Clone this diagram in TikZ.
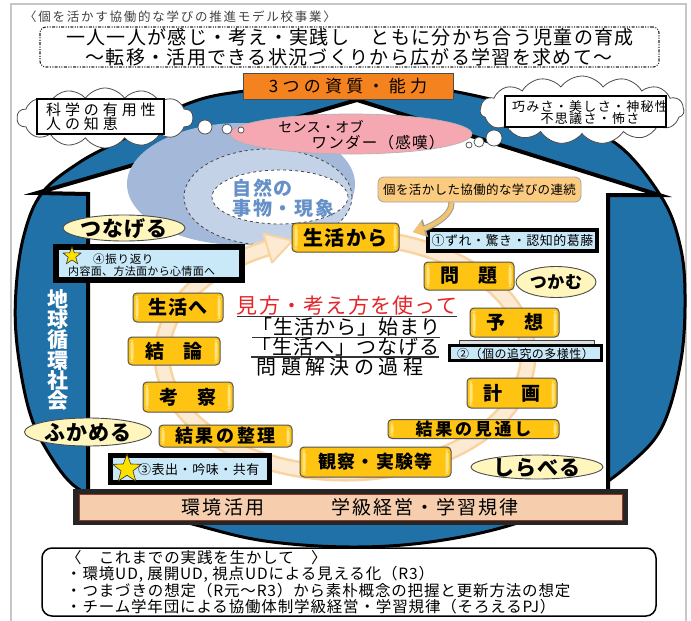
\documentclass[tikz,border=0pt]{standalone}
\usepackage{fontspec}
\setmainfont{Noto Sans CJK JP}
\usetikzlibrary{shapes.geometric,shapes.symbols,arrows.meta}

\definecolor{earth}{HTML}{2171A9}
\definecolor{orng}{HTML}{F3821F}
\definecolor{pinkw}{HTML}{F5A8B1}
\definecolor{swirlA}{HTML}{A4B9D9}
\definecolor{swirlB}{HTML}{C4D2E8}
\definecolor{swirltext}{HTML}{6590C8}
\definecolor{stagefill}{HTML}{FFC412}
\definecolor{stagelite}{HTML}{FFE37E}
\definecolor{notefill}{HTML}{C9E8F8}
\definecolor{verbfill}{HTML}{FFF6BE}
\definecolor{bandA}{HTML}{F9D3A0}
\definecolor{bandB}{HTML}{FDEAD2}
\definecolor{callfill}{HTML}{FBCB80}
\definecolor{arrowfill}{HTML}{F4C46C}
\definecolor{barfill}{HTML}{F6CEAD}
\definecolor{barline}{HTML}{8E3A2A}
\definecolor{redtext}{HTML}{E4262A}
\definecolor{starfill}{HTML}{FFE100}

\newcommand\tracking[1]{\addfontfeature{LetterSpace=#1}}
\newcommand\fsz[1]{\fontsize{#1}{#1}\selectfont}

\begin{document}
\begin{tikzpicture}[x=1pt, y=-1pt,
  stage/.style={rectangle, rounded corners=4, draw=gray!65!black, line width=1,
    fill=stagefill, inner sep=0, font=\bfseries\fsz{18},
    path picture={
      \fill[stagelite] ([xshift=2.5pt,yshift=3pt]path picture bounding box.south west)
        rectangle ([xshift=5.5pt,yshift=-3pt]path picture bounding box.north west);
      \fill[stagelite] ([xshift=-5.5pt,yshift=3pt]path picture bounding box.south east)
        rectangle ([xshift=-2.5pt,yshift=-3pt]path picture bounding box.north east);}},
  note/.style={rectangle, draw=black, line width=4, fill=notefill, inner sep=0},
  verb/.style={ellipse, draw=gray!60!black, line width=.9, fill=verbfill, inner sep=0},
  verbtext/.style={font=\bfseries\fsz{21}\tracking{6}, inner sep=0},
  puff/.style={circle, draw=gray!60!black, line width=.7, fill=white, inner sep=0},
  starry/.style={star, star points=5, star point ratio=2.4, fill=starfill,
    draw=gray!40!black, line width=.6, inner sep=0},
  plain/.style={inner sep=0},
]
\useasboundingbox (0,0) rectangle (691,621);

% page frame
\draw[gray!45, line width=1.2] (11,640) -- (11,4) -- (686,4) -- (686,640);

% heading
\node[plain, anchor=west, font=\fsz{12.5}\tracking{14}, text=black!75] (project) at (24,17)
  {〈個を活かす協働的な学びの推進モデル校事業〉};
\node[draw=black!85, line width=1.1, rounded corners=6,
  dash pattern=on 3pt off 1.4pt on 1pt off 1.4pt on 1pt off 1.4pt,
  minimum width=619, minimum height=40, inner sep=0] (theme) at (349.5,47) {};
\node[plain, font=\fsz{19}\tracking{7}] (themeA) at (350,37.5)
  {一人一人が感じ・考え・実践し　ともに分かち合う児童の育成};
\node[plain, font=\fsz{19}\tracking{7}] (themeB) at (349,57)
  {〜転移・活用できる状況づくりから広がる学習を求めて〜};

% the earth
\filldraw[fill=earth, draw=black, line width=3] plot[smooth cycle, tension=0.6] coordinates {
  (348,82) (420,86) (494,100) (560,120) (618,145) (662,198) (680,245) (685,295)
  (681,360) (663,425) (632,462) (585,495) (511,525) (430,542) (350,547)
  (265,541) (196,525) (120,503) (77,488) (48,452) (29,410) (17,345) (16,290)
  (24,235) (42,193) (80,162) (125,138) (187,104) (245,91)};

% the house
\filldraw[fill=white, draw=black, line width=4]
  (357,100) -- (659,195) -- (608,195) -- (608,492) -- (88,492) -- (88,194) -- (37,193) -- cycle;

% foundation bar
\node[rectangle, fill=black!85, minimum width=555, minimum height=36, inner sep=0] (base) at (350.5,507) {};
\node[rectangle, fill=barfill, draw=barline, line width=.8, minimum width=543, minimum height=26, inner sep=0] (baseIn) at (350.5,507.5) {};
\node[plain, font=\fsz{19}\tracking{12}] (env) at (223,507) {環境活用};
\node[plain, font=\fsz{19}\tracking{10}] (rule) at (425,507) {学級経営・学習規律};

% natural things and phenomena
\node[ellipse, fill=swirlA, minimum width=228, minimum height=122, inner sep=0] (swA) at (241,184) {};
\node[ellipse, fill=swirlB, draw=gray!55!black, line width=.8, dashed, minimum width=168, minimum height=96, inner sep=0] (swB) at (268,197) {};
\node[ellipse, fill=white, draw=gray!55!black, line width=.8, dashed, minimum width=136, minimum height=54, inner sep=0] (swC) at (280,197) {};
\node[plain, anchor=west, align=left, text=swirltext, font=\bfseries\fsz{19}\tracking{10}] (nature) at (232,198)
  {自然の\\[1pt]事物・現象};

% learning cycle band
\coordinate (ringc) at (345,355);
\draw[bandA, line width=17] (ringc) ++(280:183 and 118) arc[start angle=280, end angle=605, x radius=183, y radius=118];
\draw[bandB, line width=12] (ringc) ++(280:183 and 118) arc[start angle=280, end angle=605, x radius=183, y radius=118];
\filldraw[fill=bandB, draw=bandA, line width=2, line join=round] (292.6,240.6) -- (272.0,262.5) -- (263.4,233.7) -- cycle;

% sense of wonder
\node[ellipse, fill=pinkw, draw=gray!60, line width=.7, minimum width=242, minimum height=40, inner sep=0] (wonder) at (351,134) {};
\node[plain, font=\fsz{14}\tracking{2}] (wonderA) at (321,127) {センス・オブ};
\node[plain, font=\fsz{15.5}\tracking{8}] (wonderB) at (378,143) {ワンダー（感嘆）};

% thought clouds
\node[cloud, cloud puffs=14, cloud puff arc=110, aspect=2.9, draw=gray!60!black, line width=.8,
  fill=white, minimum width=176, minimum height=60, inner sep=0] (cloudL) at (105,118) {};
\node[rectangle, draw=black, line width=1.1, fill=white, minimum width=127, minimum height=35, inner sep=0] (sci) at (100.5,116.5) {};
\node[plain, anchor=west, align=left, font=\fsz{15}\tracking{26}] (sciT) at (46,116.5) {科学の有用性\\[-1pt]人の知恵};
\node[puff, minimum size=14] (bL1) at (205,127) {};
\node[puff, minimum size=10] (bL2) at (227,129) {};
\node[puff, minimum size=6] (bL3) at (241,130) {};

\node[cloud, cloud puffs=15, cloud puff arc=110, aspect=2.9, draw=gray!60!black, line width=.8,
  fill=white, minimum width=204, minimum height=68, inner sep=0] (cloudR) at (582,110) {};
\node[rectangle, draw=black, line width=1.1, fill=white, minimum width=161, minimum height=31, inner sep=0] (beauty) at (585.5,111.5) {};
\node[plain, align=center, font=\fsz{13}\tracking{10}] (beautyT) at (590,112.5) {巧みさ・美しさ・神秘性\\[-1pt]不思議さ・怖さ};
\node[puff, minimum size=16] (bR1) at (494,138) {};
\node[puff, minimum size=10] (bR2) at (479,142) {};
\node[puff, minimum size=6] (bR3) at (469,145) {};

% three qualities
\node[rectangle, fill=orng, draw=black!70, line width=.8, minimum width=210, minimum height=26,
  inner sep=0, font=\fsz{17}\tracking{25}] (qual) at (348,86) {3つの資質・能力};

% society label
\node[plain, align=center, text=white, font=\bfseries\fontsize{21}{20.3}\selectfont] (society) at (58,350)
  {地\\球\\循\\環\\社\\会};

% process stages
\node[stage, minimum width=107, minimum height=29, font=\bfseries\fsz{20}\tracking{6}] (sFrom) at (345.5,237.5) {生活から};
\node[stage, minimum width=90, minimum height=28, font=\bfseries\fsz{19}] (sProb) at (469,276) {問　題};
\node[stage, minimum width=89, minimum height=29, font=\bfseries\fsz{19}] (sHyp) at (514.5,322.5) {予　想};
\node[stage, minimum width=90, minimum height=30, font=\bfseries\fsz{19}] (sPlan) at (512,393) {計　画};
\node[stage, minimum width=171, minimum height=19, font=\bfseries\fsz{17}\tracking{16}] (sPred) at (473.5,429) {結果の見通し};
\node[stage, minimum width=151, minimum height=30, font=\bfseries\fsz{18}\tracking{6}] (sObs) at (375.5,462) {観察・実験等};
\node[stage, minimum width=133, minimum height=22, font=\bfseries\fsz{18}\tracking{14}] (sSort) at (225.5,436) {結果の整理};
\node[stage, minimum width=90, minimum height=30, font=\bfseries\fsz{19}] (sCons) at (188,397) {考　察};
\node[stage, minimum width=92, minimum height=28, font=\bfseries\fsz{19}] (sConc) at (174,351) {結　論};
\node[stage, minimum width=90, minimum height=29, font=\bfseries\fsz{19}\tracking{6}] (sTo) at (178,307.5) {生活へ};

% notes
\node[note, minimum width=169, minimum height=21] (n1) at (512.5,240.5) {};
\node[plain, font=\fsz{13}\tracking{4}] (n1T) at (512.5,241) {①ずれ・驚き・認知的葛藤};
\node[rectangle, fill=gray!25, draw=gray!50!black, line width=.6, minimum width=135, minimum height=5, inner sep=0] (n2tab) at (526.5,342.5) {};
\node[note, minimum width=152, minimum height=15, line width=3.5] (n2) at (525.5,353) {};
\node[plain, font=\fsz{12}\tracking{4}] (n2T) at (525.5,353.5) {②（個の追究の多様性）};
\node[note, minimum width=159, minimum height=27, line width=5] (n3) at (190,469) {};
\node[starry, minimum size=30] (n3star) at (127,469) {};
\node[plain, anchor=west, font=\fsz{13}\tracking{4}] (n3T) at (138,470) {③表出・吟味・共有};
\node[note, minimum width=186, minimum height=33, line width=6] (n4) at (149,263.5) {};
\node[starry, minimum size=19] (n4star) at (72,256) {};
\node[plain, anchor=west, font=\fsz{11.5}\tracking{6}] (n4A) at (93,259) {④振り返り};
\node[plain, anchor=west, font=\fsz{11}\tracking{3}] (n4B) at (68,271) {内容面、方法面から心情面へ};

% actions
\node[verb, minimum width=122, minimum height=26] (vLink) at (124,228) {};
\node[verbtext] (vLinkT) at (124,228.5) {つなげる};
\node[verb, minimum width=127, minimum height=28] (vDeep) at (88,432) {};
\node[verbtext] (vDeepT) at (88,432.5) {ふかめる};
\node[verb, minimum width=80, minimum height=31] (vGrab) at (556,282) {};
\node[verbtext, font=\bfseries\fsz{17}\tracking{4}] (vGrabT) at (556,282.5) {つかむ};
\node[verb, minimum width=132, minimum height=24] (vExam) at (537,467) {};
\node[verbtext] (vExamT) at (537,467.5) {しらべる};

% collaborative learning callout
\node[rectangle, rounded corners=6, fill=callfill, draw=gray!70, line width=.8,
  minimum width=203, minimum height=25, inner sep=0, font=\fsz{12.5}\tracking{3}] (call) at (479.5,189.5)
  {個を活かした協働的な学びの連続};
\coordinate (calltip) at (413,232);
\draw[gray!75, line width=6.2, -{Triangle[length=13pt,width=18pt]}]
  ([xshift=-28pt]call.south) .. controls +(1,14) and +(16,-5) .. (calltip);
\draw[arrowfill, line width=4, -{Triangle[length=11pt,width=15pt]}]
  ([xshift=-28pt]call.south) .. controls +(1,14) and +(16,-5) .. (calltip);

% central message
\node[plain, text=redtext, font=\fsz{21}\tracking{6}] (view) at (347,306) {見方・考え方を使って};
\draw[black!80, line width=1.1] ([yshift=-1pt]view.south west) -- ([yshift=-1pt]view.south east);
\node[plain, font=\fsz{20}\tracking{5}] (start) at (346,327) {「生活から」始まり};
\draw[black!80, line width=1.1] ([yshift=-1pt]start.south west) -- ([yshift=-1pt]start.south east);
\node[plain, font=\fsz{20}\tracking{5}] (link) at (345,346.5) {「生活へ」つなげる};
\draw[black!80, line width=1.1] ([yshift=-1pt]link.south west) -- ([yshift=-1pt]link.south east);
\node[plain, font=\fsz{20}\tracking{22}] (solve) at (340,367) {問題解決の過程};

% past practice
\node[rectangle, draw=black, line width=1.5, rounded corners=10, minimum width=614, minimum height=68, inner sep=0] (past) at (349,582) {};
\node[plain, anchor=west, align=left, font=\fontsize{15.5}{16}\selectfont\tracking{5.5}] (pastT) at (66,582)
  {〈　これまでの実践を生かして　〉\\
   ・環境UD, 展開UD, 視点UDによる見える化（R3）\\
   ・つまづきの想定（R元〜R3）から素朴概念の把握と更新方法の想定\\
   ・チーム学年団による協働体制学級経営・学習規律（そろえるPJ）};
\end{tikzpicture}
\end{document}
